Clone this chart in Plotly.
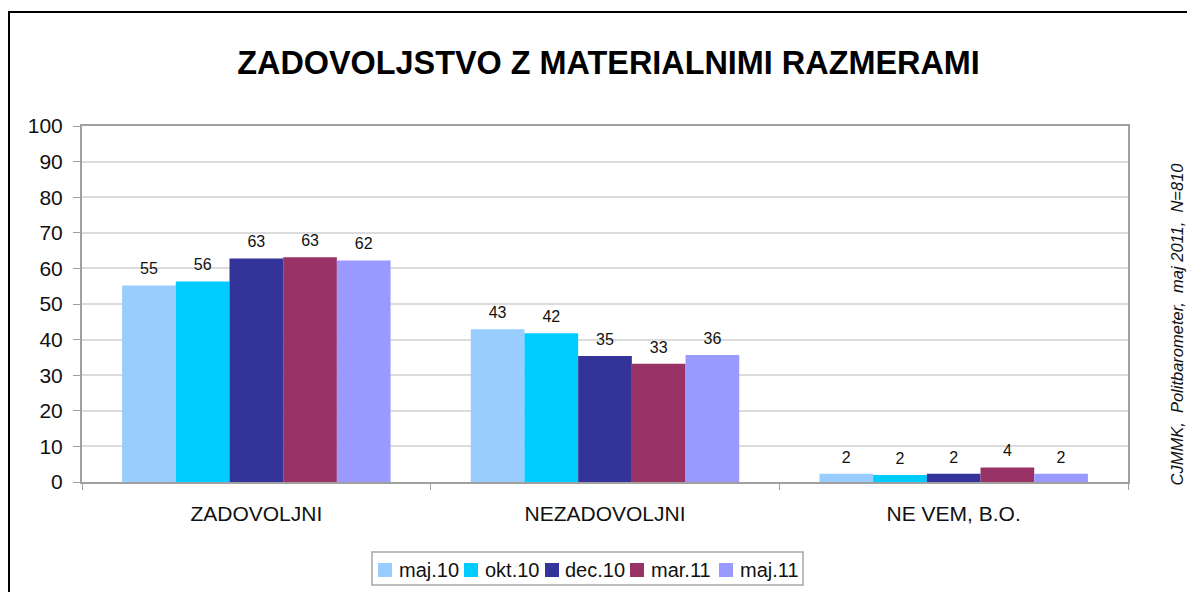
import plotly.graph_objects as go

categories = ["ZADOVOLJNI", "NEZADOVOLJNI", "NE VEM, B.O."]
series_names = ["maj.10", "okt.10", "dec.10", "mar.11", "maj.11"]
values = {
    "maj.10": [55.2, 42.9, 2.3],
    "okt.10": [56.3, 41.8, 2.0],
    "dec.10": [62.8, 35.4, 2.3],
    "mar.11": [63.1, 33.2, 4.1],
    "maj.11": [62.2, 35.7, 2.3],
}
labels = {
    "maj.10": ["55", "43", "2"],
    "okt.10": ["56", "42", "2"],
    "dec.10": ["63", "35", "2"],
    "mar.11": ["63", "33", "4"],
    "maj.11": ["62", "36", "2"],
}
colors = {
    "maj.10": "#99CCFF",
    "okt.10": "#00CCFF",
    "dec.10": "#333399",
    "mar.11": "#993366",
    "maj.11": "#9999FF",
}
y_ticks = [0, 10, 20, 30, 40, 50, 60, 70, 80, 90, 100]

FONT = "Liberation Sans, Arial, sans-serif"

# page has an 8px body margin; work in page coordinates and shift
OFF = 8
W, H = 1195 - OFF, 592 - OFF
L, R, T, B = 82, 1128, 126, 482          # plot area in page coords
pw, ph = R - L, B - T


def px(x):
    return (x - L) / pw


def py(y):
    return (B - y) / ph


fig = go.Figure()
for name in series_names:
    fig.add_trace(go.Bar(
        x=categories, y=values[name], name=name,
        marker=dict(color=colors[name], line=dict(width=0)),
        offsetgroup=name, hoverinfo="skip", showlegend=False,
    ))
for name in series_names:
    fig.add_trace(go.Scatter(
        x=categories, y=values[name], name=name, mode="markers+text",
        text=labels[name], textposition="top center",
        marker=dict(size=10, opacity=0),
        textfont=dict(family=FONT, size=16, color="#111111"),
        offsetgroup=name, cliponaxis=False, hoverinfo="skip", showlegend=False,
    ))

fig.update_layout(
    width=W, height=H,
    margin=dict(l=L - OFF, r=W - (R - OFF), t=T - OFF, b=H - (B - OFF), pad=0),
    paper_bgcolor="white", plot_bgcolor="white",
    barmode="group", bargap=0.23, bargroupgap=0,
    scattermode="group", scattergap=0.23,
    font=dict(family=FONT, color="#111111"),
    title=dict(text="<b>ZADOVOLJSTVO Z MATERIALNIMI RAZMERAMI</b>",
               x=(608.5 - OFF) / W, xanchor="center", y=1 - (63 - OFF) / H, yanchor="middle",
               xref="container", yref="container",
               font=dict(family=FONT, size=32.4, color="#000000")),
    showlegend=False,
    xaxis=dict(showline=True, linecolor="#a0a0a0", linewidth=2, mirror=True,
               ticks="outside", tickson="boundaries", ticklen=6, tickcolor="#a0a0a0",
               tickfont=dict(family=FONT, size=21, color="#111111"),
               ticklabelstandoff=12, showgrid=False),
    yaxis=dict(range=[0, 100], tickvals=y_ticks, showline=True, linecolor="#a0a0a0",
               linewidth=2, mirror=True, ticks="outside", ticklen=7, tickcolor="#a0a0a0",
               tickfont=dict(family=FONT, size=21, color="#111111"),
               ticklabelstandoff=6,
               showgrid=True, gridcolor="#dcdcdc", gridwidth=1.5, zeroline=False),
)

# source note
fig.add_annotation(text="<i>CJMMK,  Politbarometer,  maj 2011,  N=810</i>",
                   xref="paper", yref="paper", x=px(1176.5), y=py(324),
                   xanchor="center", yanchor="middle",
                   textangle=-90, showarrow=False,
                   font=dict(family=FONT, size=16.5, color="#111111"))

# custom compact legend
legend_square_x = [378, 464, 545, 630, 719]
legend_text_x = [396.5, 483, 563, 649, 738]
fig.add_shape(type="rect", xref="paper", yref="paper",
              x0=px(372), x1=px(803), y0=py(585), y1=py(552),
              line=dict(color="#a6a6a6", width=1.5), fillcolor="white")
for name, sx, tx in zip(series_names, legend_square_x, legend_text_x):
    fig.add_shape(type="rect", xref="paper", yref="paper",
                  x0=px(sx), x1=px(sx + 14), y0=py(577), y1=py(563),
                  line=dict(width=0), fillcolor=colors[name])
    fig.add_annotation(text=name, xref="paper", yref="paper", x=px(tx), y=py(570),
                       xanchor="left", yanchor="middle", showarrow=False,
                       font=dict(family=FONT, size=20, color="#111111"))

# outer chart border
fig.add_shape(type="rect", xref="paper", yref="paper",
              x0=px(9), x1=px(1260), y0=py(650), y1=py(12),
              line=dict(color="#000000", width=2), fillcolor="rgba(0,0,0,0)", layer="above")

fig.write_html("out.html")
